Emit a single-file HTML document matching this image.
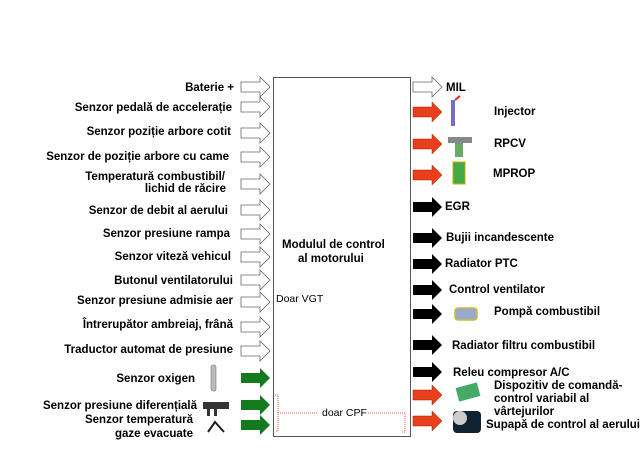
<!DOCTYPE html>
<html><head><meta charset="utf-8"><style>
body{margin:0;background:#fff;width:642px;height:444px;overflow:hidden}
svg text{font-family:"Liberation Sans",Arial,sans-serif;font-weight:bold;font-size:11.5px;fill:#000}
</style></head><body>
<svg width="642" height="444" viewBox="0 0 642 444">
<defs>
<path id="ar" d="M0,-5 L19,-5 L19,-10 L29,0 L19,10 L19,5 L0,5 Z"/>
</defs>
<rect x="273.5" y="77.5" width="137" height="359" fill="#fff" stroke="#555" stroke-width="1"/>
<text x="282" y="248">Modulul de control</text>
<text x="298" y="262">al motorului</text>
<text x="276" y="302" style="font-weight:normal;font-size:10.5px">Doar VGT</text>
<g fill="none" stroke="#e06040" stroke-width="1" stroke-dasharray="1,1">
<path d="M275,395 L278,395 L278,431 L275,431"/>
<path d="M278,413 L318,413"/>
<path d="M368,413 L405,413 L405,432 L402,432"/>
</g>
<text x="322" y="416" style="font-weight:normal;font-size:10.5px">doar CPF</text>
<g fill="#fff" stroke="#666" stroke-width="0.8">
<use href="#ar" x="241" y="87"/><use href="#ar" x="241" y="107"/><use href="#ar" x="241" y="133"/>
<use href="#ar" x="241" y="157"/><use href="#ar" x="241" y="184"/><use href="#ar" x="241" y="210"/>
<use href="#ar" x="241" y="234"/><use href="#ar" x="241" y="257"/><use href="#ar" x="241" y="280"/>
<use href="#ar" x="241" y="302"/><use href="#ar" x="241" y="327"/><use href="#ar" x="241" y="351"/>
<use href="#ar" x="413" y="87"/>
</g>
<g fill="#137a1e"><use href="#ar" x="241" y="378"/><use href="#ar" x="241" y="405"/><use href="#ar" x="241" y="425"/></g>
<g fill="#e8401c" stroke="#a02000" stroke-width="0.5"><use href="#ar" x="413" y="112"/><use href="#ar" x="413" y="144"/><use href="#ar" x="413" y="175"/><use href="#ar" x="413" y="395"/><use href="#ar" x="413" y="421"/></g>
<g fill="#000"><use href="#ar" x="413" y="207"/><use href="#ar" x="413" y="238"/><use href="#ar" x="413" y="264"/><use href="#ar" x="413" y="290"/><use href="#ar" x="413" y="314"/><use href="#ar" x="413" y="345"/><use href="#ar" x="413" y="372"/></g>
<g text-anchor="end">
<text x="234" y="91">Baterie +</text>
<text x="232" y="111">Senzor pedală de accelerație</text>
<text x="231" y="135">Senzor poziție arbore cotit</text>
<text x="229" y="160">Senzor de poziție arbore cu came</text>
<text x="225" y="180">Temperatură combustibil/</text>
<text x="226" y="192">lichid de răcire</text>
<text x="228" y="214">Senzor de debit al aerului</text>
<text x="230" y="237">Senzor presiune rampa</text>
<text x="231" y="260">Senzor viteză vehicul</text>
<text x="233" y="284">Butonul ventilatorului</text>
<text x="233" y="304">Senzor presiune admisie aer</text>
<text x="233" y="328">Întrerupător ambreiaj, frână</text>
<text x="233" y="353">Traductor automat de presiune</text>
<text x="195" y="382">Senzor oxigen</text>
<text x="197" y="409">Senzor presiune diferențială</text>
<text x="193" y="423">Senzor temperatură</text>
<text x="193" y="437">gaze evacuate</text>
</g>
<rect x="211" y="365" width="5" height="26" rx="2" fill="#bbb" stroke="#777" stroke-width="0.6"/>
<rect x="203" y="402" width="26" height="7" fill="#333"/><rect x="207" y="408" width="3" height="8" fill="#333"/><rect x="214" y="408" width="3" height="8" fill="#333"/>
<path d="M208,432 L215,422 L224,432" fill="none" stroke="#222" stroke-width="2"/>
<g>
<text x="446" y="91">MIL</text>
<text x="494" y="115">Injector</text>
<text x="494" y="147">RPCV</text>
<text x="493" y="177">MPROP</text>
<text x="445" y="210">EGR</text>
<text x="446" y="241">Bujii incandescente</text>
<text x="445" y="267">Radiator PTC</text>
<text x="449" y="293">Control ventilator</text>
<text x="494" y="315">Pompă combustibil</text>
<text x="452" y="349">Radiator filtru combustibil</text>
<text x="453" y="376">Releu compresor A/C</text>
<text x="494" y="389">Dispozitiv de comandă-</text>
<text x="494" y="402">control variabil al</text>
<text x="494" y="415">vârtejurilor</text>
<text x="486" y="428">Supapă de control al aerului</text>
</g>
<rect x="451" y="100" width="4" height="26" fill="#7a6ad0"/><path d="M455,100 L460,96" stroke="#d22" stroke-width="2"/>
<rect x="448" y="137" width="24" height="6" fill="#888"/><rect x="455" y="143" width="8" height="14" fill="#6a6"/>
<rect x="453" y="162" width="12" height="22" fill="#4a4" stroke="#ca0" stroke-width="1"/>
<rect x="455" y="308" width="22" height="12" rx="3" fill="#9ac" stroke="#cb3" stroke-width="1.5"/>
<rect x="457" y="385" width="22" height="14" fill="#4a6" transform="rotate(-15 468 392)"/>
<rect x="453" y="411" width="28" height="22" rx="4" fill="#123"/><circle cx="460" cy="418" r="7" fill="#ccc"/>
</svg>
</body></html>
